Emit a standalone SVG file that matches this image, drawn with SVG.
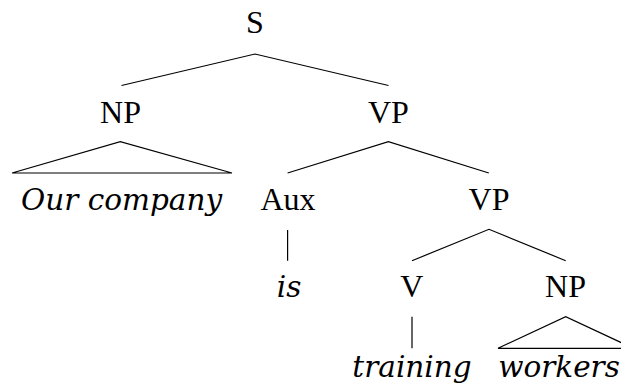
<svg xmlns="http://www.w3.org/2000/svg" width="621" height="387" viewBox="0 0 621 387">
<style>
.cat{font-family:"Liberation Serif","Times New Roman",serif;font-size:32px;fill:#000;text-anchor:middle}
.leaf{font-family:"DejaVu Serif","Liberation Serif",serif;font-style:italic;font-size:29.5px;fill:#000;text-anchor:middle}
.edge{fill:none;stroke:#000;stroke-width:1.2}
</style>
<rect width="621" height="387" fill="#fff"/>
<g id="connectors">
<polyline class="edge" points="121.5,85.5 255,54 388.5,85.5"/>
<polygon class="edge" points="12,173 120.3,141.7 232,173"/>
<polyline class="edge" points="287.6,173 388.4,141.7 488.8,173"/>
<line class="edge" x1="287.6" y1="230" x2="287.6" y2="260.7"/>
<polyline class="edge" points="412,260.7 489,229.3 565.7,260.7"/>
<line class="edge" x1="412" y1="316.7" x2="412" y2="348.3"/>
<polygon class="edge" points="498,348.3 565.7,316.7 633.4,348.3"/>
</g>
<g id="S"><text class="cat" x="255" y="33">S</text></g>
<g id="NP1"><text class="cat" x="120.5" y="122.5">NP</text></g>
<g id="VP1"><text class="cat" x="388.4" y="122.5">VP</text></g>
<g id="leaf-our-company"><text class="leaf" x="121.6" y="210">Our company</text></g>
<g id="Aux"><text class="cat" x="288" y="210">Aux</text></g>
<g id="VP2"><text class="cat" x="489" y="210">VP</text></g>
<g id="leaf-is"><text class="leaf" x="289" y="297">is</text></g>
<g id="V"><text class="cat" x="411.8" y="297">V</text></g>
<g id="NP2"><text class="cat" x="565.5" y="297">NP</text></g>
<g id="leaf-training"><text class="leaf" x="412" y="377">training</text></g>
<g id="leaf-workers"><text class="leaf" x="559" y="377">workers</text></g>
</svg>
